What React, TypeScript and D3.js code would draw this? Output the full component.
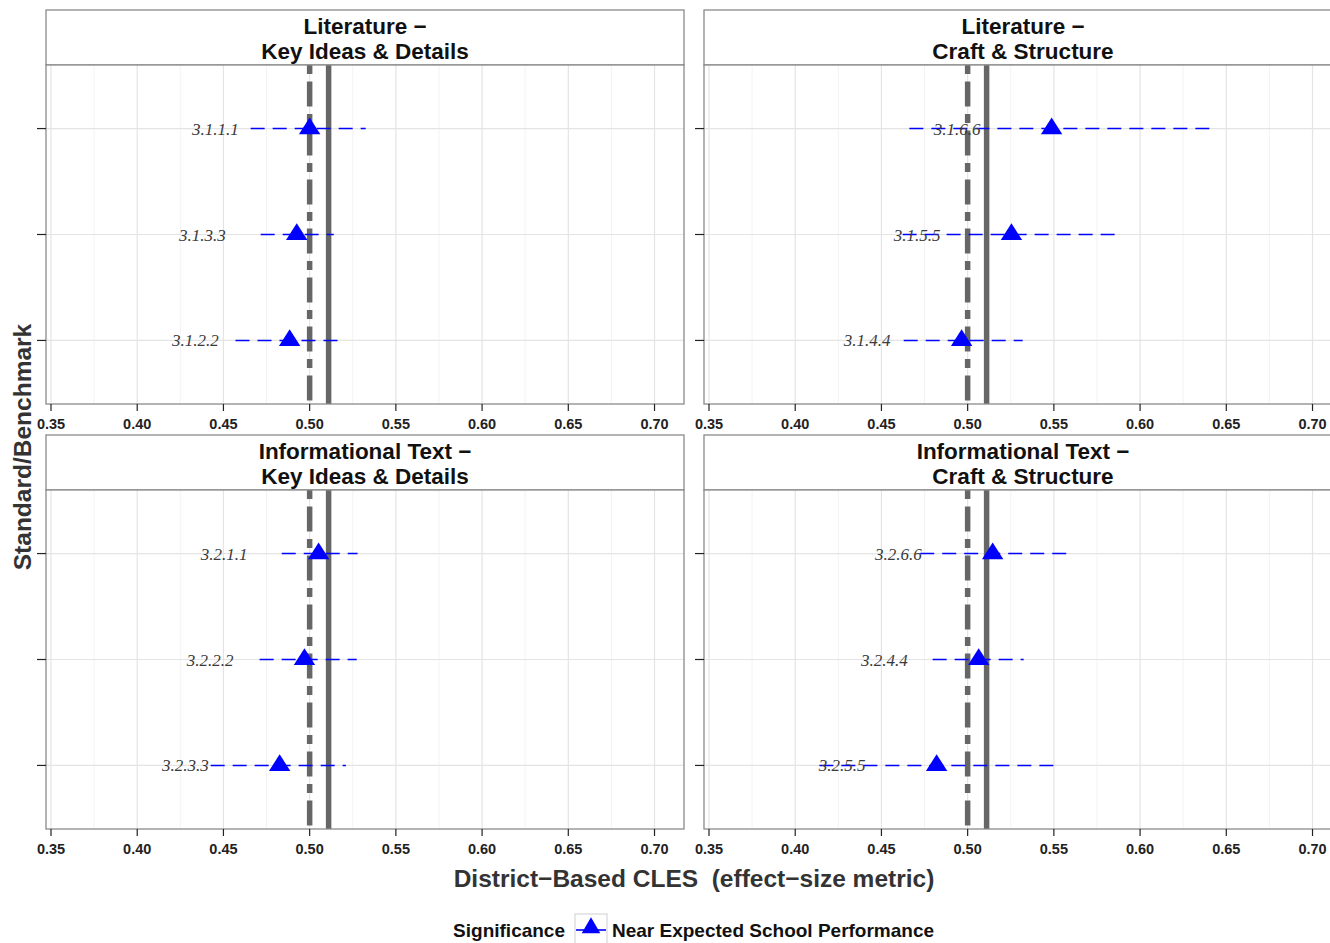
import React from "react";
import * as d3 from "d3";

// ---- data ----
const facetTitles: string[][] = [
  ["Literature −", "Key Ideas & Details"],
  ["Literature −", "Craft & Structure"],
  ["Informational Text −", "Key Ideas & Details"],
  ["Informational Text −", "Craft & Structure"],
];
const standards: string[][] = [
  ["3.1.1.1", "3.1.3.3", "3.1.2.2"],
  ["3.1.6.6", "3.1.5.5", "3.1.4.4"],
  ["3.2.1.1", "3.2.2.2", "3.2.3.3"],
  ["3.2.6.6", "3.2.4.4", "3.2.5.5"],
];
const estimates: number[][] = [
  [0.5, 0.4925, 0.4884],
  [0.5487, 0.5254, 0.4965],
  [0.5052, 0.497, 0.4826],
  [0.5145, 0.5064, 0.482],
];
const lowerCI: number[][] = [
  [0.4658, 0.4716, 0.457],
  [0.4662, 0.4623, 0.4629],
  [0.4838, 0.471, 0.4426],
  [0.4725, 0.4797, 0.414],
];
const upperCI: number[][] = [
  [0.5325, 0.514, 0.5186],
  [0.6404, 0.5876, 0.5319],
  [0.5278, 0.5273, 0.521],
  [0.5574, 0.5325, 0.5505],
];
const xTicks = [0.35, 0.4, 0.45, 0.5, 0.55, 0.6, 0.65, 0.7];
const xMinor = [0.375, 0.425, 0.475, 0.525, 0.575, 0.625, 0.675];
const referenceValue = 0.5;
const districtValue = 0.511;
const legendTitle = "Significance";
const legendLabel = "Near Expected School Performance";
const xTitle = "District−Based CLES\u00a0\u00a0(effect−size metric)";
const yTitle = "Standard/Benchmark";

// ---- layout ----
const W = 1330;
const H = 943;
const panelW = 638;
const panelXs = [46, 704];
const stripTops = [10, 435];
const stripH = 55;
const panelH = 339;

const x = d3.scaleLinear().domain([0.3471, 0.7171]).range([0, panelW]);
const rowIdx = [0, 1, 2];
const yb = d3.scaleLinear().domain([0.4, 3.6]).range([0, panelH]);
const yPos = (k: number) => yb(k + 1);

const tri = d3.symbol().type(d3.symbolTriangle).size(180)() as string;
const triSmall = d3.symbol().type(d3.symbolTriangle).size(150)() as string;

const sans = "'Liberation Sans', Arial, sans-serif";
const serif = "'Liberation Serif', 'Times New Roman', serif";

function Panel({ i }: { i: number }) {
  const col = i % 2;
  const row = Math.floor(i / 2);
  const px = panelXs[col];
  const sTop = stripTops[row];
  const pTop = sTop + stripH;
  return (
    <g>
      {/* strip */}
      <rect x={px} y={sTop} width={panelW} height={stripH} fill="#ffffff" stroke="#8a8a8a" strokeWidth={1.3} />
      <text x={px + panelW / 2} y={sTop + 24} textAnchor="middle" fontFamily={sans} fontWeight="bold" fontSize={22.5} fill="#111">
        {facetTitles[i][0]}
      </text>
      <text x={px + panelW / 2} y={sTop + 49} textAnchor="middle" fontFamily={sans} fontWeight="bold" fontSize={22.5} fill="#111">
        {facetTitles[i][1]}
      </text>
      <g transform={`translate(${px},${pTop})`}>
        <rect x={0} y={0} width={panelW} height={panelH} fill="#fff" />
        {xMinor.map((v) => (
          <line key={"mn" + v} x1={x(v)} x2={x(v)} y1={0} y2={panelH} stroke="#f3f3f3" strokeWidth={1} />
        ))}
        {xTicks.map((v) => (
          <line key={"mj" + v} x1={x(v)} x2={x(v)} y1={0} y2={panelH} stroke="#e4e4e4" strokeWidth={1.2} />
        ))}
        {rowIdx.map((k) => (
          <line key={"hy" + k} x1={0} x2={panelW} y1={yPos(k)} y2={yPos(k)} stroke="#e4e4e4" strokeWidth={1.2} />
        ))}
        {/* reference lines */}
        <line x1={x(referenceValue)} x2={x(referenceValue)} y1={0} y2={panelH} stroke="#666" strokeWidth={5.5} strokeDasharray="9,7.5,25,7.5" />
        <line x1={x(districtValue)} x2={x(districtValue)} y1={0} y2={panelH} stroke="#666" strokeWidth={5.5} />
        {/* CIs */}
        {rowIdx.map((k) => (
          <line key={"ci" + k} x1={x(lowerCI[i][k])} x2={x(upperCI[i][k])} y1={yPos(k)} y2={yPos(k)} stroke="#0000ff" strokeWidth={1.6} strokeDasharray="14,8" />
        ))}
        {/* labels */}
        {rowIdx.map((k) => (
          <text key={"lb" + k} x={x(estimates[i][k]) - 71} y={yPos(k) + 6} textAnchor="end" fontFamily={serif} fontStyle="italic" fontSize={17} fill="#3a3a3a">
            {standards[i][k]}
          </text>
        ))}
        {/* points */}
        {rowIdx.map((k) => (
          <path key={"pt" + k} d={tri} transform={`translate(${x(estimates[i][k])},${yPos(k)}) scale(1.05,0.95)`} fill="#0000ff" />
        ))}
        <rect x={0} y={0} width={panelW} height={panelH} fill="none" stroke="#8a8a8a" strokeWidth={1.3} />
        {/* x ticks */}
        {xTicks.map((v) => (
          <g key={"xt" + v}>
            <line x1={x(v)} x2={x(v)} y1={panelH} y2={panelH + 7} stroke="#222" strokeWidth={1.2} />
            <text x={x(v)} y={panelH + 25} textAnchor="middle" fontFamily={sans} fontWeight="bold" fontSize={14.5} fill="#222">
              {v.toFixed(2)}
            </text>
          </g>
        ))}
        {/* y ticks */}
        {rowIdx.map((k) => (
          <line key={"yt" + k} x1={-9} x2={0} y1={yPos(k)} y2={yPos(k)} stroke="#222" strokeWidth={1.2} />
        ))}
      </g>
    </g>
  );
}

export default function App() {
  return (
    <svg width={W} height={H} style={{ position: "absolute", left: 0, top: 0, background: "#fff" }}>
      <rect x={0} y={0} width={W} height={H} fill="#fff" />
      {[0, 1, 2, 3].map((i) => (
        <Panel key={i} i={i} />
      ))}
      <text x={694} y={887} textAnchor="middle" fontFamily={sans} fontWeight="bold" fontSize={24.5} fill="#333">
        {xTitle}
      </text>
      <text transform="translate(31,447) rotate(-90)" textAnchor="middle" fontFamily={sans} fontWeight="bold" fontSize={24.5} fill="#333">
        {yTitle}
      </text>
      {/* legend */}
      <text x={565} y={937} textAnchor="end" fontFamily={sans} fontWeight="bold" fontSize={19} fill="#111">
        {legendTitle}
      </text>
      <rect x={575} y={914} width={32} height={30} fill="#fff" stroke="#cfcfcf" strokeWidth={1} />
      <line x1={576} x2={606} y1={930} y2={930} stroke="#0000ff" strokeWidth={1.6} />
      <path d={triSmall} transform="translate(591,928)" fill="#0000ff" />
      <text x={612} y={937} fontFamily={sans} fontWeight="bold" fontSize={19} fill="#111">
        {legendLabel}
      </text>
    </svg>
  );
}
